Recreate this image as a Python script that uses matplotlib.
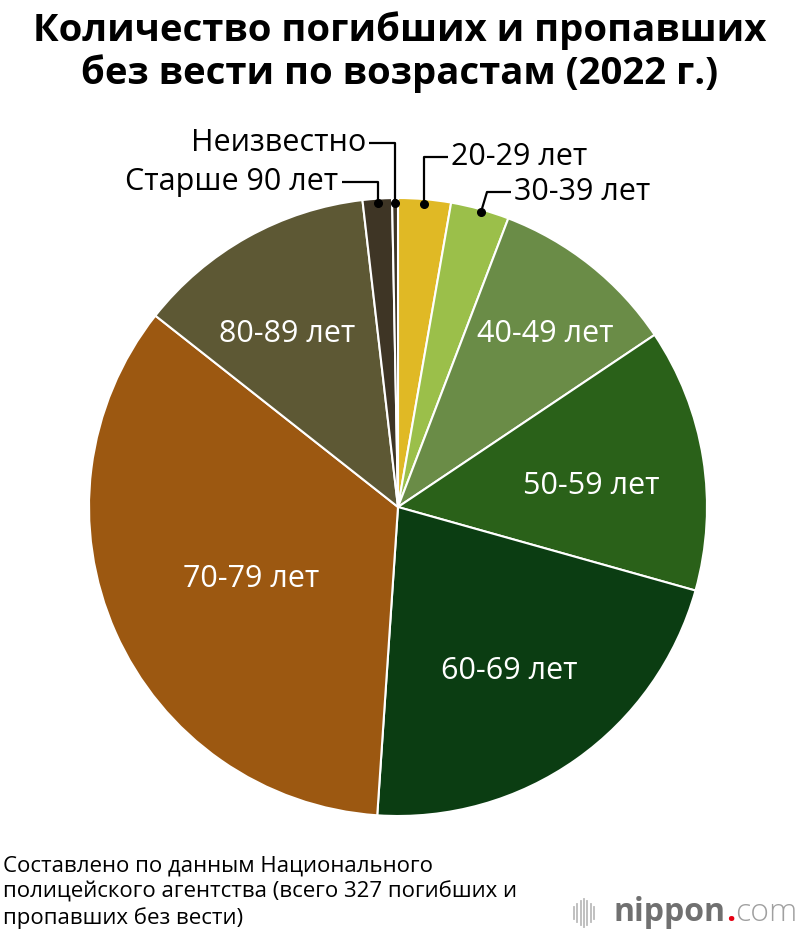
import matplotlib.pyplot as plt
import numpy as np

plt.rcParams["font.family"] = ["Open Sans", "DejaVu Sans"]

# data: deaths / missing by age group, 2022 (total 327)
labels = ["20-29 лет", "30-39 лет", "40-49 лет", "50-59 лет", "60-69 лет",
          "70-79 лет", "80-89 лет", "Старше 90 лет", "Неизвестно"]
values = [9, 10, 32, 45, 71, 113, 41, 5, 1]
colors = ["#E0B925", "#9BBF4A", "#6A8C47", "#2A6119", "#0B3D12",
          "#9C5811", "#5D5834", "#3E3525", "#3E3525"]

title = "Количество погибших и пропавших\nбез вести по возрастам (2022 г.)"
source = ("Составлено по данным Национального\n"
          "полицейского агентства (всего 327 погибших и\n"
          "пропавших без вести)")

W, H = 800, 940
fig = plt.figure(figsize=(W / 100, H / 100), dpi=100)
cx, cy, r = 398, 507, 309
ax = fig.add_axes([(cx - r) / W, (H - cy - r) / H, 2 * r / W, 2 * r / H])

wedges, _ = ax.pie(values, colors=colors, startangle=90, counterclock=False,
                   radius=1, wedgeprops=dict(edgecolor="white", linewidth=1.5))
ax.set_xlim(-1, 1)
ax.set_ylim(-1, 1)
ax.set_aspect("equal")
ax.axis("off")

# labels inside the big slices: (fraction of radius, angle shift in deg)
inside = {2: (0.735, -2), 3: (0.63, -3), 4: (0.64, -1), 5: (0.53, 2), 6: (0.665, 3.5)}
for i, w in enumerate(wedges):
    if i in inside:
        d, shift = inside[i]
        mid = np.deg2rad((w.theta1 + w.theta2) / 2 + shift)
        ax.text(d * np.cos(mid), d * np.sin(mid), labels[i], ha="center",
                va="center", color="white", fontsize=22)


def px2ax(x, y):
    return (x - cx) / r, (cy - y) / r


# leader lines for the small slices: (elbow y px, horizontal length px, side)
callouts = {0: (157, 24, 1), 1: (192, 24, 1), 7: (182, 36, -1), 8: (143, 26, -1)}
for i, (ly, hl, side) in callouts.items():
    w = wedges[i]
    mid = np.deg2rad((w.theta1 + w.theta2) / 2)
    dr = 0.985
    x0, y0 = dr * np.cos(mid), dr * np.sin(mid)
    if i == 1:
        x0, y0 = px2ax(481, 212)
    _, y1 = px2ax(0, ly)
    x1 = x0 if i != 1 else x0 + 6 / r
    x2 = x1 + side * hl / r
    ax.plot([x0, x1, x2], [y0, y1, y1], color="black", lw=1.6,
            solid_capstyle="butt", clip_on=False)
    ax.plot(x0, y0, "o", color="black", ms=5.5, clip_on=False)
    ax.text(x2 + side * 3 / r, y1, labels[i], ha="left" if side > 0 else "right",
            va="center", fontsize=22, color="black")

fig.text(0.5, 1 - 52 / H, title, ha="center", va="center", fontsize=27.5,
         fontweight="bold", linespacing=1.15)

fig.text(3 / W, 1 - 892 / H, source, ha="left", va="center", fontsize=16,
         linespacing=1.28)

# nippon.com logo, laid out right to left
base = 1 - 921 / H
fig.canvas.draw()
rend = fig.canvas.get_renderer()
t_com = fig.text(797 / W, base, "com", ha="right", va="baseline", fontsize=23,
                 fontweight="light", color="#A0A0A0")
x_right = t_com.get_window_extent(rend).x0 / W
t_dot = fig.text(x_right + 1 / W, base, ".", ha="right", va="baseline", fontsize=23,
                 fontweight="bold", color="#E60012")
x_right = t_dot.get_window_extent(rend).x0 / W
fig.text(x_right - 1 / W, base, "nippon", ha="right", va="baseline", fontsize=23,
         fontweight="bold", color="#707070")
bars = [12, 18, 24, 28, 24, 18, 12]
for k, bh in enumerate(bars):
    x = (574 + k * 3.3) / W
    fig.add_artist(plt.Line2D([x, x], [1 - (913 - bh / 2) / H, 1 - (913 + bh / 2) / H],
                              color="#BBBBBB", lw=1.3))

fig.savefig("out.png", dpi=100, facecolor="white")
